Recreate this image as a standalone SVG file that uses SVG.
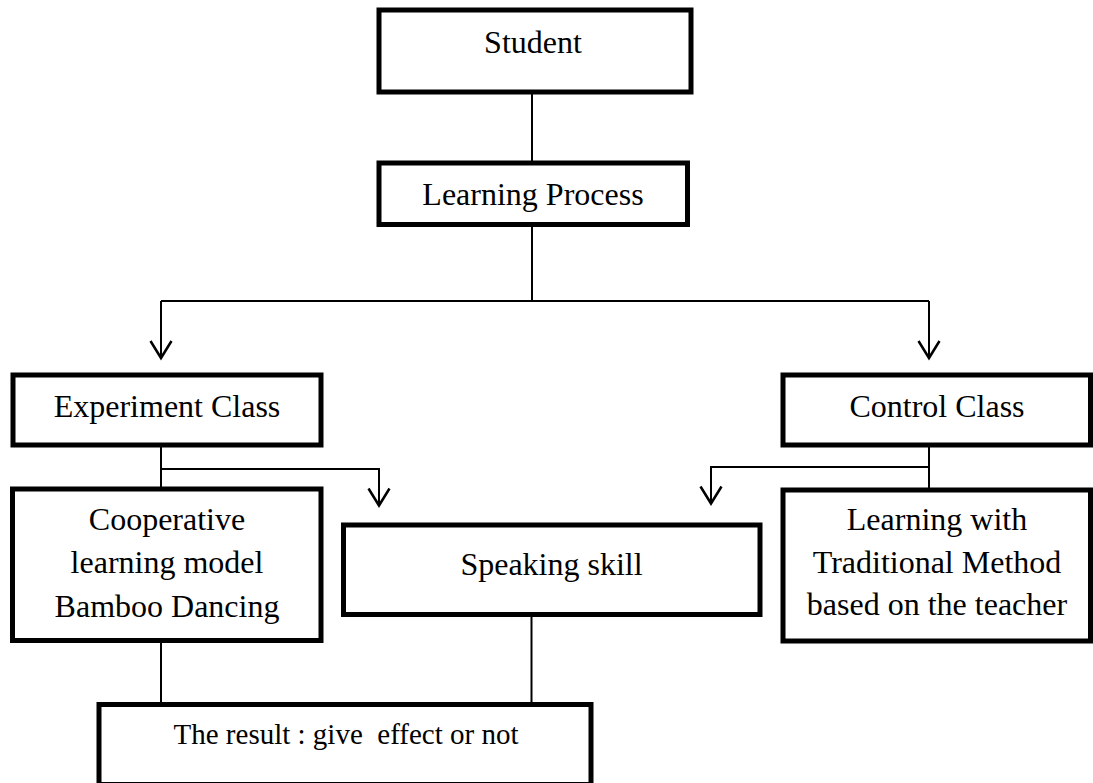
<svg xmlns="http://www.w3.org/2000/svg" width="1093" height="783" viewBox="0 0 1093 783">
<style>
.box{fill:#fff;stroke:#000;stroke-width:5}
.t{font-family:"Liberation Serif","Times New Roman",serif;font-size:32px;fill:#000;text-anchor:middle}
.ts{font-size:29px}
.c{fill:none;stroke:#000;stroke-width:2}
</style>
<defs>
<marker id="arr" markerUnits="userSpaceOnUse" markerWidth="40" markerHeight="40" viewBox="-20 -20 40 40" refX="0" refY="0" orient="auto" overflow="visible">
<path d="M-17,-10.5 L0,0 L-17,10.5" fill="none" stroke="#000" stroke-width="2.5"/>
</marker>
</defs>
<rect width="1093" height="783" fill="#fff"/>
<g id="connectors">
<path class="c" d="M532,92 V163"/>
<path class="c" d="M532,225 V301 M161,301 H929"/>
<path class="c" d="M161,301 V358" marker-end="url(#arr)"/>
<path class="c" d="M929,301 V358" marker-end="url(#arr)"/>
<path class="c" d="M161,445 V489"/>
<path class="c" d="M161,469 H379 V505.5" marker-end="url(#arr)"/>
<path class="c" d="M929,445 V490"/>
<path class="c" d="M929,467 H711 V503.5" marker-end="url(#arr)"/>
<path class="c" d="M161,640.5 V704.5"/>
<path class="c" d="M531.5,614.5 V704.5"/>
</g>
<g id="student">
<rect class="box" x="379" y="10" width="312" height="82"/>
<text class="t" x="533" y="53">Student</text>
</g>
<g id="learning-process">
<rect class="box" x="379" y="163" width="308.5" height="61.5"/>
<text class="t" x="533" y="205">Learning Process</text>
</g>
<g id="experiment-class">
<rect class="box" x="13" y="375" width="308" height="70"/>
<text class="t" x="167" y="417">Experiment Class</text>
</g>
<g id="control-class">
<rect class="box" x="783" y="375" width="307.5" height="70"/>
<text class="t" x="937" y="417">Control Class</text>
</g>
<g id="cooperative">
<rect class="box" x="12.5" y="489" width="308.5" height="151.5"/>
<text class="t" x="167" y="530">Cooperative</text>
<text class="t" x="167" y="573">learning model</text>
<text class="t" x="167" y="616.5">Bamboo Dancing</text>
</g>
<g id="speaking-skill">
<rect class="box" x="343.5" y="525" width="416.5" height="89.5"/>
<text class="t" x="551.5" y="575">Speaking skill</text>
</g>
<g id="traditional">
<rect class="box" x="783" y="490" width="307.5" height="151"/>
<text class="t" x="937" y="530">Learning with</text>
<text class="t" x="937" y="572.5">Traditional Method</text>
<text class="t" x="937" y="615">based on the teacher</text>
</g>
<g id="result">
<rect class="box" x="99" y="704.5" width="492" height="80"/>
<text class="t ts" x="346" y="743.5" xml:space="preserve">The result : give  effect or not</text>
</g>
</svg>
